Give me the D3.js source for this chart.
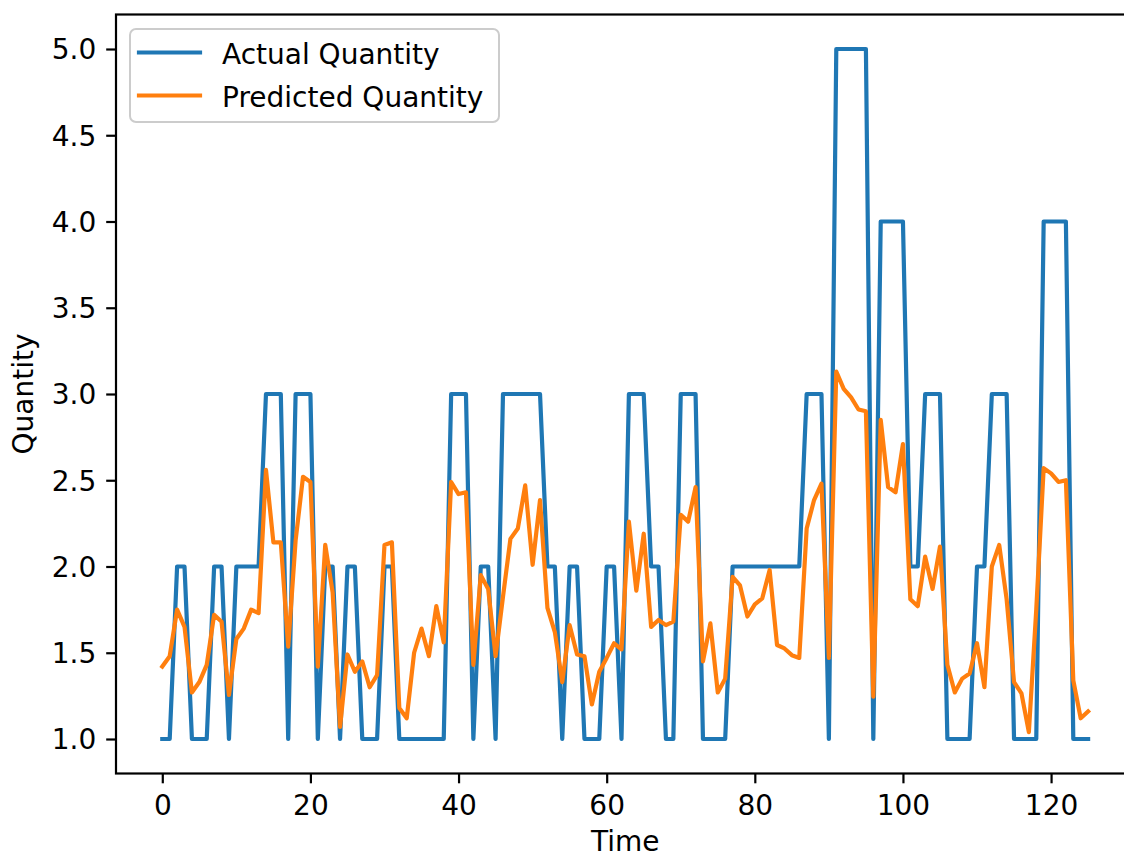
<!DOCTYPE html>
<html>
<head>
<meta charset="utf-8">
<script src="https://cdn.jsdelivr.net/npm/d3@7"></script>
<style>
  html, body { margin: 0; padding: 0; background: #ffffff; }
  svg { display: block; font-family: "DejaVu Sans", sans-serif; }
</style>
</head>
<body>
<svg id="chart" width="1124" height="858"></svg>
<script>
// ---- data ----
const timeSteps = d3.range(0, 126);
const actualQuantity = [
  1,1,2,2,1,1,1,2,2,1, 2,2,2,2,3,3,3,1,3,3,
  3,1,2,2,1,2,2,1,1,1, 2,2,1,1,1,1,1,1,1,3,
  3,3,1,2,2,1,3,3,3,3, 3,3,2,2,1,2,2,1,1,1,
  2,2,1,3,3,3,2,2,1,1, 3,3,3,1,1,1,1,2,2,2,
  2,2,2,2,2,2,2,3,3,3, 1,5,5,5,5,5,1,4,4,4,
  4,2,2,3,3,3,1,1,1,1, 2,2,3,3,3,1,1,1,1,4,
  4,4,4,1,1,1
];
const predictedQuantity = [
  1.42,1.48,1.75,1.65,1.27,1.33,1.43,1.72,1.68,1.255,
  1.58,1.64,1.75,1.73,2.56,2.14,2.14,1.535,2.15,2.52,
  2.49,1.42,2.125,1.85,1.07,1.49,1.39,1.45,1.30,1.37,
  2.125,2.14,1.18,1.12,1.50,1.64,1.48,1.77,1.56,2.49,
  2.42,2.43,1.43,1.95,1.87,1.48,1.825,2.16,2.22,2.47,
  2.01,2.385,1.76,1.62,1.33,1.66,1.49,1.48,1.20,1.39,
  1.47,1.555,1.52,2.26,1.86,2.19,1.65,1.69,1.66,1.68,
  2.30,2.26,2.46,1.45,1.67,1.27,1.35,1.94,1.89,1.71,
  1.78,1.815,1.98,1.545,1.525,1.486,1.47,2.22,2.385,2.48,
  1.47,3.13,3.03,2.98,2.91,2.90,1.245,2.85,2.46,2.43,
  2.71,1.81,1.77,2.057,1.87,2.115,1.43,1.27,1.35,1.38,
  1.555,1.30,2.0,2.125,1.81,1.33,1.265,1.04,1.75,2.57,
  2.54,2.49,2.50,1.34,1.12,1.16
];
const xTicks = [0, 20, 40, 60, 80, 100, 120];
const yTicks = [1.0, 1.5, 2.0, 2.5, 3.0, 3.5, 4.0, 4.5, 5.0];
const seriesNames = ["Actual Quantity", "Predicted Quantity"];
const seriesColors = ["#1f77b4", "#ff7f0e"];

// ---- layout ----
const svg = d3.select("#chart");
const plotLeft = 116, plotTop = 14.5, plotRight = 1134.4, plotBottom = 773.5;
const FS = 28;

const x = d3.scaleLinear().domain([-6.25, 131.25]).range([plotLeft, plotRight]);
const y = d3.scaleLinear().domain([0.8, 5.2]).range([plotBottom, plotTop]);

// clip
svg.append("defs").append("clipPath").attr("id", "plotclip")
  .append("rect").attr("x", plotLeft).attr("y", plotTop)
  .attr("width", plotRight - plotLeft).attr("height", plotBottom - plotTop);

// lines
const line = d3.line().x((d, i) => x(timeSteps[i])).y(d => y(d));
const g = svg.append("g").attr("clip-path", "url(#plotclip)");
[actualQuantity, predictedQuantity].forEach((series, k) => {
  g.append("path").datum(series)
    .attr("d", line)
    .attr("fill", "none")
    .attr("stroke", seriesColors[k])
    .attr("stroke-width", 4.2)
    .attr("stroke-linejoin", "round")
    .attr("stroke-linecap", "square");
});

// spines
svg.append("rect")
  .attr("x", plotLeft).attr("y", plotTop)
  .attr("width", plotRight - plotLeft).attr("height", plotBottom - plotTop)
  .attr("fill", "none").attr("stroke", "#000").attr("stroke-width", 2.2);

// x axis
const xAxis = svg.append("g").attr("transform", `translate(0,${plotBottom})`)
  .call(d3.axisBottom(x).tickValues(xTicks).tickFormat(d3.format("d")).tickSize(9.8).tickSizeOuter(0));
xAxis.select(".domain").remove();
xAxis.selectAll(".tick line").attr("stroke", "#000").attr("stroke-width", 2.2);
xAxis.selectAll(".tick text")
  .attr("y", 41).attr("dy", 0)
  .attr("fill", "#000")
  .style("font-size", FS + "px").style("font-family", "DejaVu Sans");

// y axis
const yAxis = svg.append("g").attr("transform", `translate(${plotLeft},0)`)
  .call(d3.axisLeft(y).tickValues(yTicks).tickFormat(d3.format(".1f")).tickSize(9.8).tickSizeOuter(0));
yAxis.select(".domain").remove();
yAxis.selectAll(".tick line").attr("stroke", "#000").attr("stroke-width", 2.2);
yAxis.selectAll(".tick text")
  .attr("x", -19.8).attr("dy", "0.35em")
  .attr("fill", "#000")
  .style("font-size", FS + "px").style("font-family", "DejaVu Sans");

// axis labels
svg.append("text")
  .attr("x", (plotLeft + plotRight) / 2).attr("y", 851)
  .attr("text-anchor", "middle")
  .style("font-size", FS + "px").text("Time");
svg.append("text")
  .attr("transform", `translate(33,${(plotTop + plotBottom) / 2}) rotate(-90)`)
  .attr("text-anchor", "middle")
  .style("font-size", FS + "px").text("Quantity");

// legend
const leg = svg.append("g");
leg.append("rect")
  .attr("x", 130).attr("y", 29).attr("width", 369).attr("height", 93)
  .attr("rx", 6).attr("ry", 6)
  .attr("fill", "#ffffff").attr("fill-opacity", 0.8)
  .attr("stroke", "#cccccc").attr("stroke-width", 2);
seriesNames.forEach((name, k) => {
  const cy = 52.5 + k * 43;
  leg.append("line")
    .attr("x1", 139).attr("x2", 200).attr("y1", cy).attr("y2", cy)
    .attr("stroke", seriesColors[k]).attr("stroke-width", 4.2)
    .attr("stroke-linecap", "square");
  leg.append("text")
    .attr("x", 222).attr("y", cy + 11)
    .style("font-size", FS + "px").attr("fill", "#000")
    .text(name);
});
</script>
</body>
</html>
